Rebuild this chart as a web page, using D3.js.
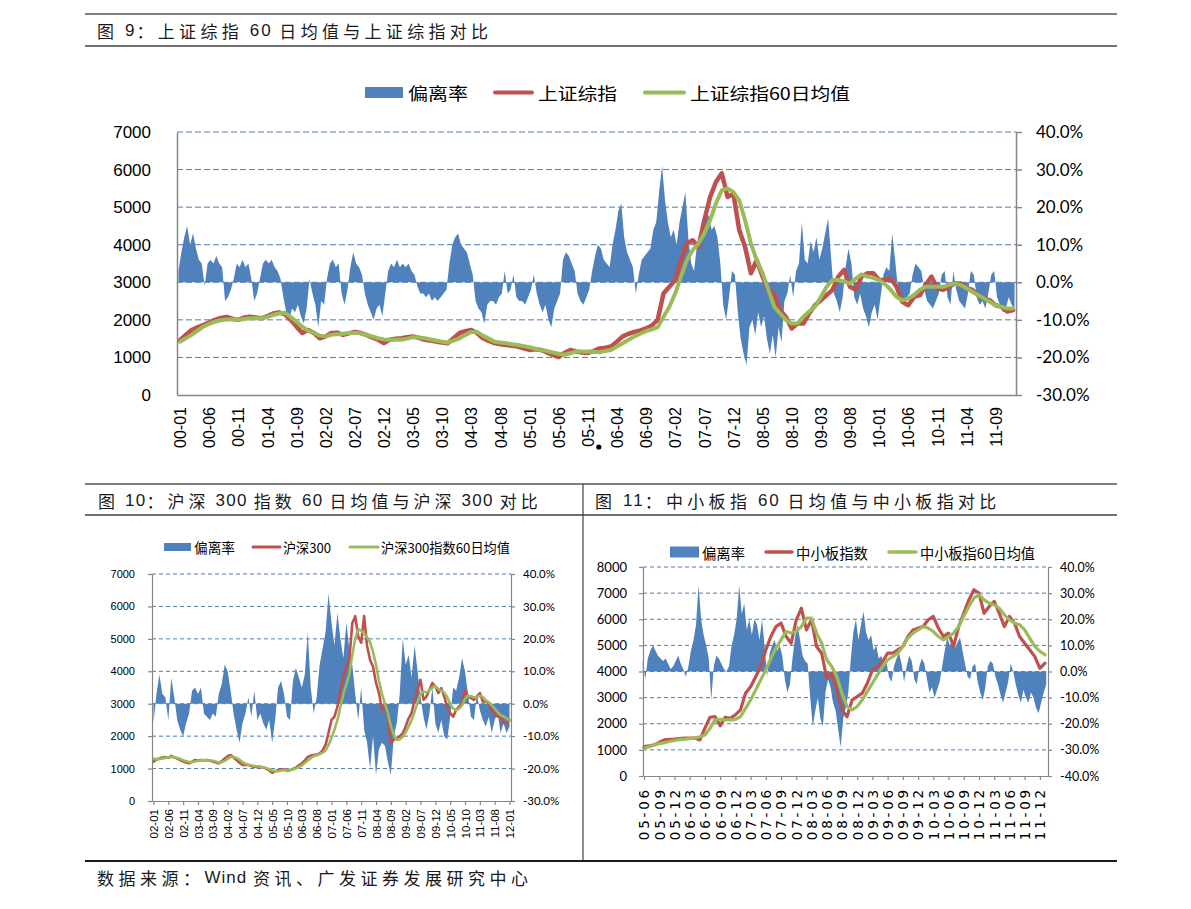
<!DOCTYPE html>
<html><head><meta charset="utf-8">
<script src="https://cdn.jsdelivr.net/npm/d3@7"></script>
<style>body{margin:0;background:#fff;} svg{display:block;}</style>
</head><body>
<svg id="c" width="1191" height="909"></svg>
<script>
// ---------- Figure 9: 上证综指 (monthly 2000-01 .. 2011-12) ----------
const topTickLabels = ["00-01","00-06","00-11","01-04","01-09","02-02","02-07","02-12","03-05","03-10","04-03","04-08","05-01","05-06","05-11","06-04","06-09","07-02","07-07","07-12","08-05","08-10","09-03","09-08","10-01","10-06","10-11","11-04","11-09"];
const topIndex = [1460,1600,1730,1800,1860,1930,2000,2050,2080,2030, 2000,2060,2080,2060,2040,2100,2170,2200,2150,2000, 1820,1650,1730,1650,1510,1560,1650,1660,1600,1640,
 1680,1650,1600,1530,1470,1380,1470,1500,1510,1540, 1560,1520,1470,1450,1420,1400,1380,1520,1650,1700, 1730,1650,1510,1440,1380,1350,1330,1310,1290,1240,
 1200,1220,1200,1130,1070,1010,1120,1200,1160,1130, 1120,1170,1240,1260,1290,1420,1560,1630,1680,1720, 1770,1850,2000,2700,2880,3060,3590,4030,4120,3940,
 4650,5270,5670,5900,5270,5360,4390,3940,3240,3590, 3150,2800,2700,2260,2080,1770,1900,1900,2170,2390, 2520,2660,2800,3150,3330,2880,2800,3150,3240,3240,
 3060,3060,3100,2880,2480,2390,2610,2660,2930,3150, 2840,2800,2880,2970,2970,2840,2800,2660,2570,2520, 2390,2350,2220,2260];
const topMA60 = [1420,1510,1600,1710,1820,1890,1950,1990,2010,2010, 2000,2020,2040,2040,2040,2080,2130,2170,2190,2080, 1950,1820,1710,1650,1580,1560,1600,1620,1630,1650,
 1660,1640,1600,1560,1510,1480,1470,1470,1470,1500, 1540,1530,1510,1480,1450,1420,1400,1450,1510,1600, 1680,1680,1580,1500,1420,1400,1380,1350,1330,1300,
 1270,1230,1200,1170,1130,1100,1070,1110,1160,1160, 1160,1150,1140,1170,1200,1290,1380,1470,1560,1630, 1700,1750,1800,2080,2350,2700,3150,3590,3860,4030,
 4300,4650,5100,5450,5500,5400,5180,4650,4030,3590, 3240,2800,2350,2170,2000,1900,1910,2080,2220,2350, 2610,2880,3060,3060,3020,2970,3100,3210,3150,3120,
 3060,2950,2800,2610,2520,2570,2660,2800,2880,2880, 2880,2880,2930,2970,2930,2840,2750,2660,2570,2480, 2390,2350,2300,2300];
// 偏离率 (%), two readings per month
const topDeviation = [3,8,12,15,10,13,9,6,5,-1,5,6,5,7,5,4,-5,-4,-2,1,
 5,4,6,4,5,1,-5,-3,1,5,6,5,6,4,3,1,-4,-8,-10,-7,
 -8,-6,-9,-11,-7,1,-3,-6,-12,-5,-6,1,5,6,4,5,-3,-6,-2,4,
 8,5,4,2,-3,-6,-8,-10,-7,-6,-9,-3,3,5,4,6,4,5,4,5,
 3,2,-1,-3,-3,-4,-3,-5,-4,-5,-4,-3,-2,5,10,12,13,10,9,8,
 5,2,-5,-7,-8,-11,-6,-5,-5,-6,-4,-3,3,-3,-2,2,-4,-5,-5,-6,
 -4,-2,2,-3,-6,-8,-6,-10,-12,-7,-5,-3,6,8,7,5,3,-3,-5,-6,
 -4,-2,3,7,10,9,6,5,4,10,14,19,21,12,8,6,4,-3,2,6,
 7,8,9,14,16,24,31,22,16,12,14,10,16,20,24,12,5,3,10,13,
 15,17,18,14,15,12,5,-6,-10,-4,3,2,-8,-15,-19,-22,-12,-10,-14,-8,
 -12,-9,-15,-19,-14,-20,-12,-16,-5,-3,2,-4,3,5,16,6,5,11,8,12,
 6,9,13,17,7,-3,-5,-8,-4,4,9,5,-4,-6,-3,-7,-9,-12,-8,-6,
 -10,-4,2,4,3,13,6,-2,-5,-6,-4,-3,2,5,4,3,-2,-5,-6,-7,
 -5,-3,2,3,-4,-6,3,-2,-5,-6,-7,-3,3,2,-4,-6,-5,-7,-3,2,
 3,-4,-6,-8,-7,-4,-6,-7];

// ---------- Figure 10: 沪深300 (monthly 2002-01 .. 2012-01) ----------
const hsTickLabels = ["02-01","02-06","02-11","03-04","03-09","04-02","04-07","04-12","05-05","05-10","06-03","06-08","07-01","07-06","07-11","08-04","08-09","09-02","09-07","09-12","10-05","10-10","11-03","11-08","12-01"];
const hsIndex = [1215,1280,1310,1340,1360,1330,1390,1350,1310,1260, 1215,1190,1160,1210,1265,1250,1265,1250,1265,1240, 1215,1190,1160,1230,1310,1380,1420,1340,1265,1180,
 1110,1120,1110,1080,1050,1060,1050,1030,1000,940, 870,920,950,980,970,940,950,990,1030,1100, 1160,1250,1360,1400,1420,1430,1470,1560,1730,2100,
 2500,2600,2910,3400,3840,4150,4350,5480,5700,5080, 4880,5700,4780,4350,4150,3640,3330,2810,2910,2600, 1780,1890,1940,1990,2090,2300,2550,2710,3120,3430,
 3740,3120,3220,3430,3640,3530,3330,3480,3220,2910, 2710,2600,2810,2910,3020,3430,3220,3170,3120,3220, 3330,3070,3070,3020,2810,2710,2600,2600,2400,2400, 2500];
const hsMA60 = [1300,1290,1290,1310,1330,1350,1360,1350,1330,1300, 1260,1230,1200,1200,1220,1240,1260,1260,1260,1250, 1240,1220,1190,1200,1240,1300,1360,1360,1330,1270,
 1200,1150,1120,1100,1080,1070,1060,1040,1020,980, 940,920,920,940,950,955,960,975,1000,1050, 1100,1170,1250,1320,1380,1410,1440,1490,1560,1720,
 1950,2200,2500,2900,3300,3600,3900,4500,5000,5300, 5250,5150,5050,4900,4600,4200,3700,3300,3000,2700, 2300,2050,1880,1900,1980,2120,2300,2500,2750,3050,
 3300,3380,3350,3400,3500,3550,3450,3400,3350,3200, 3000,2850,2800,2850,2950,3150,3250,3230,3200,3200, 3250,3200,3100,3050,2950,2850,2750,2650,2600,2550, 2480];
const hsDeviation = [-6,3,9,3,2,-5,8,2,-5,-8, -10,-6,-3,4,5,3,5,-3,-4,-5, -3,-4,3,6,12,10,4,-3,-8,-12,
 -6,-3,2,-4,4,-5,-3,-6,-8,-5, -12,-5,5,7,3,-4,-5,7,11,8, 5,9,22,5,-3,2,12,17,22,34,
 25,18,28,20,14,25,17,12,3,-5, 5,-8,-12,-20,-10,-22,-14,-12,-13,-18, -22,-10,-6,3,20,12,15,8,18,10,
 2,-4,-8,-3,5,-6,-9,-5,-10,-11, -4,5,4,8,14,10,3,-4,-5,3, -2,-5,-7,-4,-9,-5,-3,-9,-6,-9, -7];

// ---------- Figure 11: 中小板指 (monthly 2005-06 .. 2012-01) ----------
const zxbTickLabels = ["05-06","05-09","05-12","06-03","06-06","06-09","06-12","07-03","07-06","07-09","07-12","08-03","08-06","08-09","08-12","09-03","09-06","09-09","09-12","10-03","10-06","10-09","10-12","11-03","11-06","11-09","11-12"];
const zxbIndex = [1122,1150,1190,1290,1380,1400,1410,1430,1450,1450, 1450,1380,1830,2250,2270,1920,2250,2210,2340,2530, 3170,3420,3800,4190,4830,5340,5720,5850,5340,5080,
 5980,6420,5590,5980,4960,4700,3740,3930,3290,2530, 2270,2910,3040,3170,3550,4060,4190,4380,4700,4700, 4830,4960,5340,5590,5660,5720,5980,6110,5660,5340,
 5470,4960,5720,6230,6740,7130,7000,6230,6490,6680, 6230,5720,6110,5850,5340,5080,4830,4570,4120,4320];
const zxbMA60 = [1060,1120,1190,1240,1280,1320,1360,1390,1410,1430, 1450,1500,1570,1830,2150,2170,2150,2150,2170,2270, 2590,2910,3290,3680,4060,4510,4900,5210,5530,5470,
 5530,5720,6040,6040,5470,5080,4450,4190,3800,3170, 2660,2530,2660,2910,3230,3550,3870,4190,4450,4570, 4700,4960,5280,5470,5590,5720,5660,5530,5340,5210,
 5340,5470,5720,6110,6490,6810,6940,6740,6620,6550, 6420,6170,5980,5850,5790,5590,5280,4960,4770,4640];
const zxbDeviation = [4,-3,5,8,10,8,6,5,4,5,3,1,2,4,6,3,1,-2,2,8,
 12,18,33,20,14,10,5,-11,2,6,5,3,1,0,2,10,14,20,33,22,
 26,16,20,14,20,18,12,20,10,-2,7,10,12,8,10,6,-3,-8,-5,5,
 13,18,12,6,4,3,-10,-21,-15,-10,-18,-21,-8,-3,-6,-12,-15,-22,-29,-18,
 -14,-8,5,15,20,12,18,23,15,12,14,8,10,5,6,2,4,-2,-4,2,
 5,7,3,-4,2,6,4,-3,-5,2,5,3,-3,-8,-6,-10,-7,-4,2,8,
 13,10,12,9,11,13,8,3,-2,-3,2,3,-4,-8,-11,-6,2,4,3,-2,
 -5,-9,-12,-8,-4,3,0,-5,-9,-12,-7,-10,-12,-8,-10,-14,-16,-12,-8,-5];

const CJK = "'Noto Sans CJK SC', sans-serif";
const ARIAL = "'Liberation Sans', Arial, sans-serif";
const CALI = "Lato, 'Open Sans', sans-serif";
const BLUE = "#4F81BD", RED = "#C0504D", GREEN = "#9BBB59", GRID = "#4F79B4", AXIS = "#868686";

const svg = d3.select("#c");
svg.append("rect").attr("width", 1191).attr("height", 909).attr("fill", "#fff");

// frame rules
const rules = [
  {x1:85,y1:14,x2:1117,y2:14,c:"#7f7f7f",w:2},
  {x1:85,y1:46,x2:1117,y2:46,c:"#404040",w:1.5},
  {x1:85,y1:484,x2:1117,y2:484,c:"#7f7f7f",w:2},
  {x1:85,y1:515,x2:1117,y2:515,c:"#404040",w:1.5},
  {x1:583,y1:484,x2:583,y2:861,c:"#404040",w:1.2},
  {x1:85,y1:861,x2:1117,y2:861,c:"#1a1a1a",w:2}
];
svg.append("g").selectAll("line").data(rules).join("line")
  .attr("x1",d=>d.x1).attr("y1",d=>d.y1).attr("x2",d=>d.x2).attr("y2",d=>d.y2)
  .attr("stroke",d=>d.c).attr("stroke-width",d=>d.w);

// headings: CJK runs get wide tracking, latin/digit runs stay tight
function title(t, x, y, size, cjkSp, latSp) {
  const el = svg.append("text").attr("x", x).attr("y", y).attr("dominant-baseline", "central")
    .attr("font-family", CJK).attr("font-size", size).attr("fill", "#1a1a1a");
  const runs = t.match(/[\u3000-\u9fff\uff00-\uffef]+|[^\u3000-\u9fff\uff00-\uffef]+/g);
  runs.forEach(r => {
    const cjk = /[\u3000-\u9fff\uff00-\uffef]/.test(r);
    el.append("tspan").text(r).attr("letter-spacing", cjk ? cjkSp : latSp)
      .attr("font-family", cjk ? CJK : ARIAL);
  });
}
title("图 9：上证综指 60 日均值与上证综指对比", 97, 30, 17, 4.3, 2);
title("图 10：沪深 300 指数 60 日均值与沪深 300 对比", 98, 500, 17, 4, 1.3);
title("图 11：中小板指 60 日均值与中小板指对比", 595, 500, 17, 4.3, 2);
title("数据来源：Wind 资讯、广发证券发展研究中心", 97, 877, 17, 4.5, 1);

function drawPanel(c) {
  const g = svg.append("g");
  const x = d3.scaleLinear().domain(c.xDomain).range([c.left, c.right]);
  const yL = d3.scaleLinear().domain([0, c.lMax]).range([c.bottom, c.top]);
  const yR = d3.scaleLinear().domain([c.rMin, c.rMax]).range([c.bottom, c.top]);
  const lTicks = d3.range(0, c.lMax + 1, 1000);
  const rTicks = d3.range(Math.round(c.rMin * 10), Math.round(c.rMax * 10) + 1).map(d => d / 10);

  g.append("g").selectAll("line").data(lTicks.slice(1)).join("line")
    .attr("x1", c.left).attr("x2", c.right)
    .attr("y1", d => yL(d)).attr("y2", d => yL(d))
    .attr("stroke", GRID).attr("stroke-width", 1).attr("stroke-dasharray", c.dash);

  g.append("path").datum(c.dev).attr("fill", BLUE)
    .attr("d", d3.area().x((d, i) => x(c.devStart + i * c.devStep)).y0(yR(0)).y1(d => yR(d / 100)));

  const line = d3.line().x((d, i) => x(i)).y(d => yL(d));
  g.append("path").datum(c.idx).attr("fill", "none").attr("stroke", RED)
    .attr("stroke-width", c.lw).attr("stroke-linejoin", "round").attr("stroke-linecap", "round").attr("d", line);
  g.append("path").datum(c.ma).attr("fill", "none").attr("stroke", GREEN)
    .attr("stroke-width", c.lw2).attr("stroke-linejoin", "round").attr("stroke-linecap", "round").attr("d", line);

  // left axis
  const ga = g.append("g").attr("transform", `translate(${c.left},0)`)
    .call(d3.axisLeft(yL).tickValues(lTicks).tickSize(c.lTick).tickSizeOuter(0).tickPadding(c.lPad).tickFormat(d3.format("d")));
  ga.attr("font-family", c.lFont).attr("font-size", c.lSize);
  // right axis
  const gr = g.append("g").attr("transform", `translate(${c.right},0)`)
    .call(d3.axisRight(yR).tickValues(rTicks).tickSize(c.rTick).tickSizeOuter(0).tickPadding(c.rPad)
      .tickFormat(d => (d * 100).toFixed(1) + "%"));
  gr.attr("font-family", CALI).attr("font-size", c.rSize);
  // bottom axis
  const tickMonths = c.xLabels.map((d, i) => i * c.xStep);
  const gx = g.append("g").attr("transform", `translate(0,${c.bottom})`)
    .call(d3.axisBottom(x).tickValues(tickMonths).tickSize(c.xTick).tickSizeOuter(0).tickFormat((d, i) => c.xLabels[i]));
  gx.attr("font-family", c.xFont).attr("font-size", c.xSize);
  gx.selectAll("text").attr("transform", "rotate(-90)").attr("text-anchor", "end")
    .attr("x", -c.xPad).attr("y", 0).attr("dy", "0.36em").attr("letter-spacing", c.xSpacing || 0);
  [ga, gr, gx].forEach(a => {
    a.selectAll("path.domain, line").attr("stroke", AXIS).attr("stroke-width", c.axisW);
    a.selectAll("text").attr("fill", "#000");
  });
  if (!c.lTick) ga.selectAll(".tick line").remove();
  if (!c.xTick) gx.selectAll(".tick line").remove();

  // legend
  const lg = g.append("g").attr("font-family", CJK).attr("font-size", c.legSize).attr("fill", "#000");
  const L = c.leg;
  lg.append("rect").attr("x", L.sw[0]).attr("y", L.y - L.swH / 2).attr("width", L.sw[1] - L.sw[0]).attr("height", L.swH).attr("fill", BLUE);
  lg.append("line").attr("x1", L.red[0]).attr("x2", L.red[1]).attr("y1", L.y).attr("y2", L.y)
    .attr("stroke", RED).attr("stroke-width", L.lw).attr("stroke-linecap", "round");
  lg.append("line").attr("x1", L.green[0]).attr("x2", L.green[1]).attr("y1", L.y).attr("y2", L.y)
    .attr("stroke", GREEN).attr("stroke-width", L.lw).attr("stroke-linecap", "round");
  c.legNames.forEach((n, i) => {
    const t = lg.append("text").text(n).attr("x", L.tx[i]).attr("y", L.y).attr("dominant-baseline", "central");
    if (L.tl) t.attr("textLength", L.tl[i]).attr("lengthAdjust", "spacingAndGlyphs");
  });
  return {x, yL, yR};
}

const topP = drawPanel({
  left: 177, right: 1016, top: 132, bottom: 395, xDomain: [-0.5, 143.5],
  lMax: 7000, rMin: -0.3, rMax: 0.4, dash: "6,3",
  dev: topDeviation, devStart: -0.25, devStep: 0.5, idx: topIndex, ma: topMA60, lw: 4.5, lw2: 4,
  lTick: 0, lPad: 26, lFont: ARIAL, lSize: 17, rTick: 6, rPad: 14, rSize: 17,
  xLabels: topTickLabels, xStep: 5, xTick: 0, xPad: 12, xFont: ARIAL, xSize: 16, axisW: 1.5,
  legSize: 17, legNames: ["偏离率", "上证综指", "上证综指60日均值"],
  leg: {y: 92.5, sw: [365, 403], swH: 11, red: [495, 532], green: [645, 684], lw: 4, tx: [408, 538, 690], tl: [60, 79, 160]}
});
// stray bullet mark between the 05-11 and 06-04 labels
svg.append("circle").attr("cx", topP.x(71.9)).attr("cy", 447).attr("r", 2.6).attr("fill", "#000");

drawPanel({
  left: 152, right: 511, top: 574, bottom: 801, xDomain: [-0.5, 120.5],
  lMax: 7000, rMin: -0.3, rMax: 0.4, dash: "4,3",
  dev: hsDeviation, devStart: 0, devStep: 1, idx: hsIndex, ma: hsMA60, lw: 2.6, lw2: 2.6,
  lTick: 4, lPad: 13, lFont: ARIAL, lSize: 11, rTick: 4, rPad: 8, rSize: 11.5,
  xLabels: hsTickLabels, xStep: 5, xTick: 4, xPad: 8, xFont: ARIAL, xSize: 11.5, axisW: 1.2,
  legSize: 13.5, legNames: ["偏离率", "沪深300", "沪深300指数60日均值"],
  leg: {y: 547, sw: [164, 191], swH: 8, red: [253, 280], green: [350, 378], lw: 3, tx: [194, 283, 381], tl: [41, 48, 129]}
});

drawPanel({
  left: 643, right: 1048, top: 567, bottom: 776, xDomain: [-0.2, 79.6],
  lMax: 8000, rMin: -0.4, rMax: 0.4, dash: "4,3",
  dev: zxbDeviation, devStart: -0.25, devStep: 0.5, idx: zxbIndex, ma: zxbMA60, lw: 3.2, lw2: 3.2,
  lTick: 4, lPad: 12, lFont: CALI, lSize: 13, rTick: 4, rPad: 8, rSize: 12.5,
  xLabels: zxbTickLabels, xStep: 3, xTick: 4, xPad: 11, xFont: "'DejaVu Sans', Verdana, sans-serif", xSize: 13.5, xSpacing: 2.8, axisW: 1.2,
  legSize: 14.5, legNames: ["偏离率", "中小板指数", "中小板指60日均值"],
  leg: {y: 552, sw: [670, 699], swH: 11, red: [766, 792], green: [889, 916], lw: 3.5, tx: [702, 796, 920], tl: [43, 72, 115]}
});
</script>
</body></html>
